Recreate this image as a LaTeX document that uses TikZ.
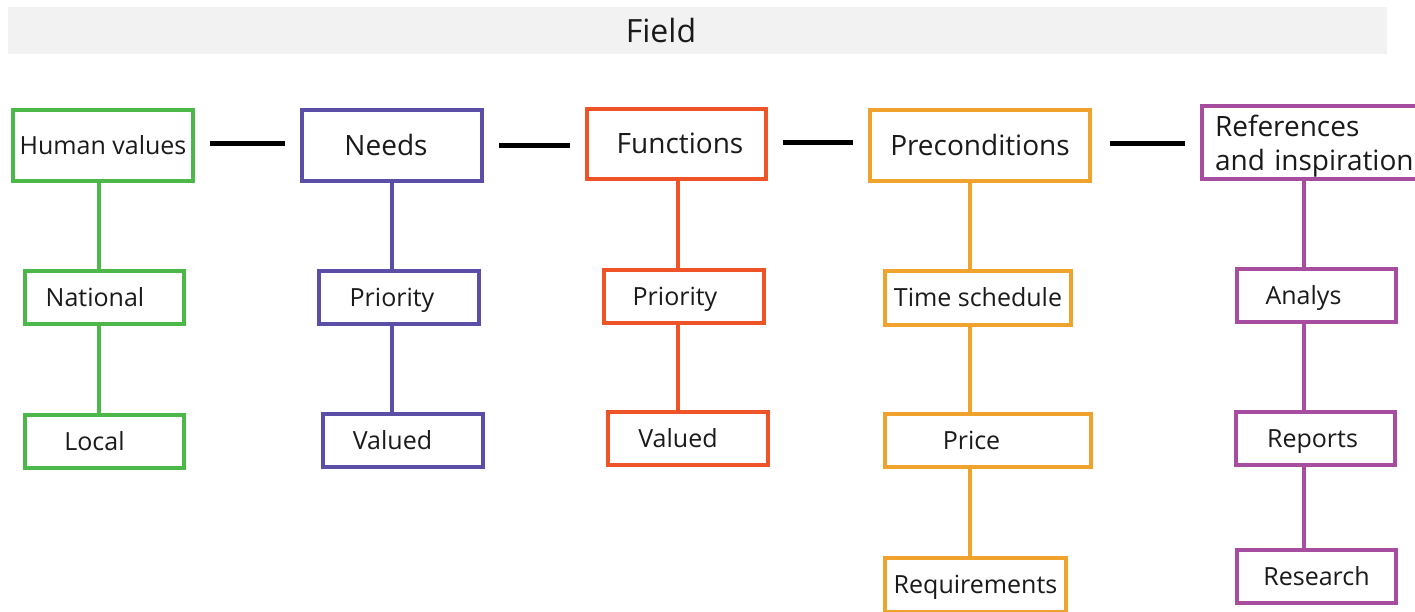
\documentclass[tikz,border=0pt]{standalone}
\usepackage{fontspec}
\setmainfont{Open Sans}
\definecolor{colG}{HTML}{4CB84A}
\definecolor{colP}{HTML}{5B4EA6}
\definecolor{colR}{HTML}{EE5428}
\definecolor{colO}{HTML}{F0A32C}
\definecolor{colM}{HTML}{A64DA0}
\definecolor{banner}{HTML}{F2F2F2}
\definecolor{txt}{HTML}{1A1A1A}
\newcommand\ShiftL[2]{#2\hspace*{#1}}
\newcommand\ShiftR[2]{\hspace*{#1}#2}
\begin{document}
\begin{tikzpicture}[x=1pt,y=-1pt,
  box/.style={draw=#1, line width=4pt, fill=white, inner sep=0pt, text=txt, text depth=0pt},
  refbox/.style={draw=#1, line width=4pt, fill=white, inner sep=0pt, text=txt},
  hline/.style={line width=5pt, draw=black},
  vline/.style={line width=4pt, draw=#1},
  big/.style={font=\fontsize{28}{34}\selectfont, text height=20pt},
  mid/.style={font=\fontsize{25}{30}\selectfont, text height=17.8pt},
  small/.style={font=\fontsize{25}{30}\selectfont, text height=17.8pt}]
\useasboundingbox (0,0) rectangle (1415,612);
% banner
\node[fill=banner, minimum width=1379pt, minimum height=47pt, inner sep=0pt,
  text=txt, font=\fontsize{32}{38}\selectfont, text height=22.8pt, text depth=0pt] (field) at (697.5,31) {\ShiftL{73pt}{Field}};
% top row
\node[box=colG, mid, minimum width=180pt, minimum height=71pt] (hv) at (103,145.5) {Human values};
\node[box=colP, big, minimum width=180pt, minimum height=71pt] (needs) at (392,145.5) {\ShiftL{12pt}{Needs}};
\node[box=colR, big, minimum width=179pt, minimum height=70pt] (func) at (676.5,144) {\ShiftR{7pt}{Functions}};
\node[box=colO, big, minimum width=220pt, minimum height=71pt] (pre) at (980,145.5) {Preconditions};
\node[refbox=colM, font=\fontsize{28}{34}\selectfont, minimum width=226pt, minimum height=73pt, text width=200pt, align=left] (ref) at (1315,142.5) {\rule{0pt}{29pt}References\\and inspiration};
% second row
\node[box=colG, small, minimum width=159pt, minimum height=53pt] (nat) at (104.5,297.5) {\ShiftL{19pt}{National}};
\node[box=colP, small, minimum width=160pt, minimum height=53pt] (pri1) at (399,297.5) {\ShiftL{14pt}{Priority}};
\node[box=colR, small, minimum width=160pt, minimum height=53pt] (pri2) at (684,296.5) {\ShiftL{18pt}{Priority}};
\node[box=colO, small, minimum width=186pt, minimum height=54pt] (time) at (978,298) {Time schedule};
\node[box=colM, small, minimum width=159pt, minimum height=53pt] (ana) at (1316.5,295.5) {\ShiftL{26pt}{Analys}};
% third row
\node[box=colG, small, minimum width=159pt, minimum height=53pt] (loc) at (104.5,441.5) {\ShiftL{20pt}{Local}};
\node[box=colP, small, minimum width=160pt, minimum height=53pt] (val1) at (403,440.5) {\ShiftL{21pt}{Valued}};
\node[box=colR, small, minimum width=160pt, minimum height=53pt] (val2) at (688,438.5) {\ShiftL{20pt}{Valued}};
\node[box=colO, small, minimum width=206pt, minimum height=53pt] (price) at (988,440.5) {\ShiftL{33pt}{Price}};
\node[box=colM, small, minimum width=159pt, minimum height=53pt] (rep) at (1315.5,438.5) {\ShiftL{6pt}{Reports}};
% fourth row
\node[box=colO, small, minimum width=181pt, minimum height=54pt] (req) at (975.5,585) {Requirements};
\node[box=colM, small, minimum width=159pt, minimum height=53pt] (res) at (1316.5,576.5) {Research};
% column coordinates
\coordinate (xG) at (99,0);
\coordinate (xP) at (392,0);
\coordinate (xR) at (678,0);
\coordinate (xO) at (970,0);
\coordinate (xM) at (1304,0);
% horizontal connectors
\draw[hline] ([xshift=15pt,yshift=2pt]hv.east) -- ([xshift=-15pt,yshift=2pt]hv.east -| needs.west);
\draw[hline] ([xshift=15pt]needs.east) -- ([xshift=-15pt]needs.east -| func.west);
\draw[hline] ([xshift=15pt,yshift=1pt]func.east) -- ([xshift=-15pt,yshift=1pt]func.east -| pre.west);
\draw[hline] ([xshift=18pt,yshift=2pt]pre.east) -- ([xshift=-15pt,yshift=2pt]pre.east -| ref.west);
% vertical connectors
\draw[vline=colG] (hv.south -| xG) -- (nat.north -| xG);
\draw[vline=colG] (nat.south -| xG) -- (loc.north -| xG);
\draw[vline=colP] (needs.south -| xP) -- (pri1.north -| xP);
\draw[vline=colP] (pri1.south -| xP) -- (val1.north -| xP);
\draw[vline=colR] (func.south -| xR) -- (pri2.north -| xR);
\draw[vline=colR] (pri2.south -| xR) -- (val2.north -| xR);
\draw[vline=colO] (pre.south -| xO) -- (time.north -| xO);
\draw[vline=colO] (time.south -| xO) -- (price.north -| xO);
\draw[vline=colO] (price.south -| xO) -- (req.north -| xO);
\draw[vline=colM] (ref.south -| xM) -- (ana.north -| xM);
\draw[vline=colM] (ana.south -| xM) -- (rep.north -| xM);
\draw[vline=colM] (rep.south -| xM) -- (res.north -| xM);
\end{tikzpicture}
\end{document}
